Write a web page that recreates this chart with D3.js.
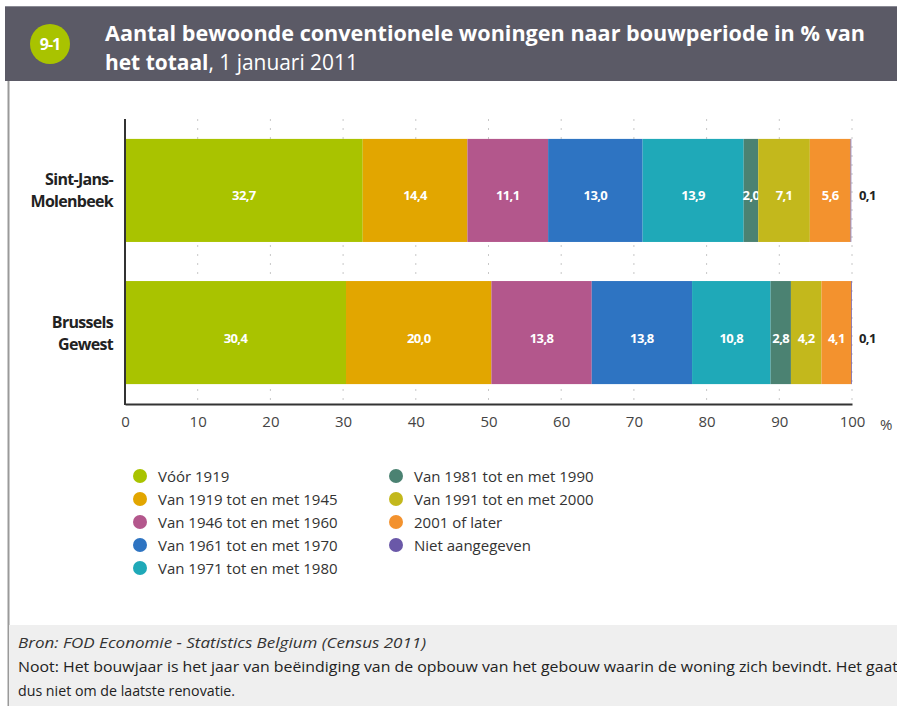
<!DOCTYPE html>
<html>
<head>
<meta charset="utf-8">
<script src="https://cdn.jsdelivr.net/npm/d3@7"></script>
<style>
body { margin: 0; background: #fff; }
svg { display: block; font-family: "Open Sans", sans-serif; }
</style>
</head>
<body>
<script>
// categories, periods, values (in %)
var regions = ['Sint-Jans-Molenbeek', 'Brussels Gewest']
var regionLines = [['Sint-Jans-', 'Molenbeek'], ['Brussels', 'Gewest']]
var periods = ['Vóór 1919', 'Van 1919 tot en met 1945', 'Van 1946 tot en met 1960',
    'Van 1961 tot en met 1970', 'Van 1971 tot en met 1980', 'Van 1981 tot en met 1990',
    'Van 1991 tot en met 2000', '2001 of later', 'Niet aangegeven']
var molenbeek = [32.7, 14.4, 11.1, 13.0, 13.9, 2.0, 7.1, 5.6, 0.1]
var brussels = [30.4, 20.0, 13.8, 13.8, 10.8, 2.8, 4.2, 4.1, 0.1]
var colors = ['#a9c300', '#e2a600', '#b3578c', '#2e74c2', '#1fa9b8', '#4b8272', '#c3b81c', '#f3922e', '#6a58a8']
var ticks = [0, 10, 20, 30, 40, 50, 60, 70, 80, 90, 100]

var width = 897,
    height = 706
var svg = d3.select('body').append('svg')
    .attr('width', width)
    .attr('height', height)

// header
svg.append('rect').attr('x', 5).attr('y', 6).attr('width', width - 5).attr('height', 75).attr('fill', '#5b5a66')
svg.append('line').attr('x1', 5).attr('x2', width).attr('y1', 6.5).attr('y2', 6.5).attr('stroke', '#8a8a94')
svg.append('circle').attr('cx', 50).attr('cy', 44).attr('r', 20).attr('fill', '#a9c300')
svg.append('text').attr('x', 50).attr('y', 50).attr('text-anchor', 'middle')
    .attr('fill', '#fff').attr('font-weight', 'bold').attr('font-size', 16).attr('letter-spacing', -1).text('9-1')
svg.append('text').attr('x', 105).attr('y', 41).attr('fill', '#fff')
    .attr('font-weight', 'bold').attr('font-size', 21)
    .attr('textLength', 760).attr('lengthAdjust', 'spacingAndGlyphs')
    .text('Aantal bewoonde conventionele woningen naar bouwperiode in % van')
var t2 = svg.append('text').attr('x', 105).attr('y', 70).attr('fill', '#fff').attr('font-size', 21)
    .attr('textLength', 253).attr('lengthAdjust', 'spacingAndGlyphs')
t2.append('tspan').attr('font-weight', 'bold').text('het totaal')
t2.append('tspan').text(', 1 januari 2011')

// left border
svg.append('line').attr('x1', 8.5).attr('x2', 8.5).attr('y1', 81).attr('y2', height).attr('stroke', '#9a9a9a').attr('stroke-width', 2)

// chart
var x = d3.scaleLinear().domain([0, 100]).range([125, 852])
var y = d3.scaleBand().domain(regions).range([119, 404]).paddingInner(0.275).paddingOuter(0.14)

// dotted grid
svg.append('g').selectAll('line').data(ticks.slice(1)).enter().append('line')
    .attr('x1', d => x(d)).attr('x2', d => x(d))
    .attr('y1', 119).attr('y2', 404)
    .attr('stroke', '#c8c8c8').attr('stroke-dasharray', '2,7')

var series = [molenbeek, brussels]
series.forEach((vals, i) => {
    var g = svg.append('g')
    var cum = 0
    var mid = y(regions[i]) + y.bandwidth() / 2 + 10
    vals.forEach((v, j) => {
        var x0 = cum
        cum += v
        g.append('rect')
            .attr('x', x(x0)).attr('y', y(regions[i]))
            .attr('width', x(cum) - x(x0)).attr('height', y.bandwidth())
            .attr('fill', colors[j])
        if (j < vals.length - 1) {
            g.append('text')
                .attr('x', x(x0 + v / 2)).attr('y', mid)
                .attr('text-anchor', 'middle').attr('fill', '#fff')
                .attr('font-weight', 'bold').attr('font-size', 13)
                .attr('letter-spacing', -0.6)
                .text(d3.format('.1f')(v).replace('.', ','))
        } else {
            g.append('text')
                .attr('x', x(100) + 7).attr('y', mid)
                .attr('fill', '#222').attr('font-weight', 'bold').attr('font-size', 13)
                .attr('letter-spacing', -0.6)
                .text(d3.format('.1f')(v).replace('.', ','))
        }
    })
    // category label
    var lt = svg.append('text').attr('text-anchor', 'end').attr('fill', '#222')
        .attr('font-weight', 'bold').attr('font-size', 16).attr('letter-spacing', -0.7)
    regionLines[i].forEach((s, k) => {
        lt.append('tspan').attr('x', 113)
            .attr('y', y(regions[i]) + y.bandwidth() / 2 - 5 + k * 22).text(s)
    })
})

// axes
var xAxis = d3.axisBottom(x).tickValues(ticks).tickSize(0).tickPadding(12)
var gx = svg.append('g').attr('transform', 'translate(0,404)').call(xAxis)
gx.select('.domain').attr('stroke', '#333').attr('stroke-width', 2)
gx.selectAll('text').attr('font-size', 15).attr('fill', '#444').attr('font-family', '"Open Sans", sans-serif')
svg.append('text').attr('x', 880).attr('y', 430).attr('font-size', 15).attr('fill', '#444').text('%')
svg.append('line').attr('x1', 125).attr('x2', 125).attr('y1', 119).attr('y2', 405)
    .attr('stroke', '#333').attr('stroke-width', 2)

// legend
var leg = svg.append('g')
periods.forEach((p, i) => {
    var col = i < 5 ? 0 : 1
    var row = i < 5 ? i : i - 5
    var lx = col === 0 ? 140 : 396
    var ly = 476 + row * 23
    leg.append('circle').attr('cx', lx).attr('cy', ly).attr('r', 7).attr('fill', colors[i])
    leg.append('text').attr('x', lx + 18).attr('y', ly + 5.5)
        .attr('font-size', 15).attr('fill', '#333').text(p)
})

// footer
svg.append('rect').attr('x', 9).attr('y', 625).attr('width', width - 9).attr('height', height - 625).attr('fill', '#efefef')
svg.append('text').attr('x', 18).attr('y', 648).attr('font-size', 15).attr('font-style', 'italic').attr('fill', '#333')
    .attr('textLength', 408).attr('lengthAdjust', 'spacingAndGlyphs')
    .text('Bron: FOD Economie - Statistics Belgium (Census 2011)')
svg.append('text').attr('x', 18).attr('y', 672).attr('font-size', 15).attr('fill', '#222')
    .attr('textLength', 880).attr('lengthAdjust', 'spacingAndGlyphs')
    .text('Noot: Het bouwjaar is het jaar van beëindiging van de opbouw van het gebouw waarin de woning zich bevindt. Het gaat')
svg.append('text').attr('x', 18).attr('y', 696).attr('font-size', 15).attr('fill', '#222')
    .attr('textLength', 217).attr('lengthAdjust', 'spacingAndGlyphs')
    .text('dus niet om de laatste renovatie.')
</script>
</body>
</html>
